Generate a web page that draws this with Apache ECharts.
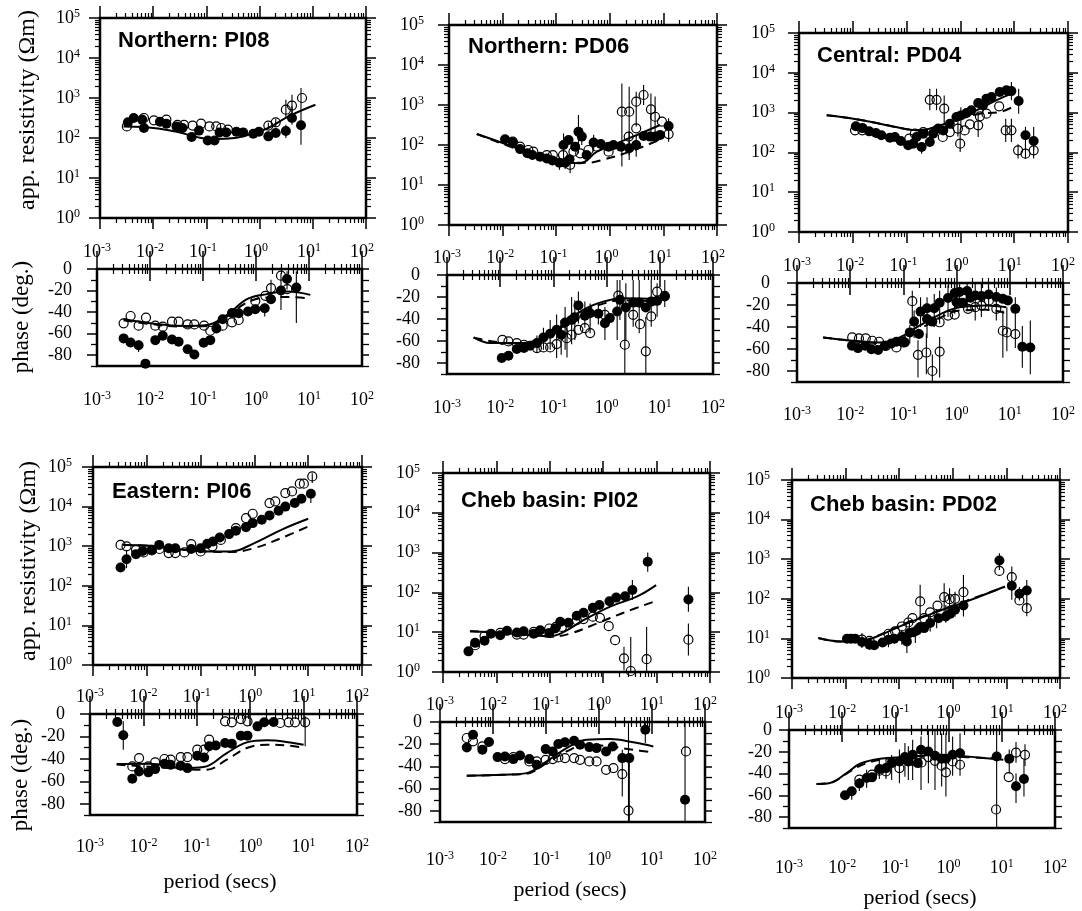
<!DOCTYPE html>
<html>
<head>
<meta charset="utf-8">
<title>MT sounding curves</title>
<script src="https://cdn.jsdelivr.net/npm/echarts/dist/echarts.min.js"></script>
<style>
html, body { margin: 0; padding: 0; background: #fff; }
#chart { width: 1082px; height: 911px; }
</style>
</head>
<body>
<div id="chart"></div>
<script>
// ---- data: [period (s), value] ; errors: [period, from, to] ----
var pi08RhoFilled = [[0.00335,246],[0.0043,316],[0.0062,288],[0.0067,178],[0.0134,256],[0.0177,228],[0.0274,195],[0.0355,178],[0.0527,106],[0.0725,153],[0.106,87],[0.142,87],[0.177,138],[0.236,138],[0.366,144],[0.49,138],[0.76,128],[0.97,144],[1.46,110],[2.01,133],[3.12,150],[4.06,316],[6.0,208]];
var pi08RhoOpen = [[0.0032,195],[0.0067,316],[0.0103,277],[0.0177,288],[0.0286,214],[0.038,214],[0.055,204],[0.0794,228],[0.114,195],[0.153,195],[0.19,178],[0.254,162],[1.46,204],[2.01,246],[3.12,512],[4.06,645],[6.27,1000]];
var pi08RhoModel = [[0.00277,195],[0.0067,188],[0.0247,147],[0.0794,100],[0.142,94],[0.34,100],[0.61,120],[1.46,178],[3.5,348],[11.2,680]];
var pi08RhoDash = [];
var pi08RhoErr = [[3.12,100,214],[4.06,214,620],[6.0,68,1780],[3.12,316,910],[4.06,346,1210],[1.46,170,240],[2.01,190,300]];
var pi08PhFilled = [[0.00318,-64.4],[0.0043,-68.2],[0.0061,-70.7],[0.0082,-87.8],[0.0126,-66],[0.0174,-62],[0.026,-65.4],[0.0347,-67.5],[0.0513,-74.4],[0.0686,-79.4],[0.103,-68.5],[0.137,-66],[0.179,-55.1],[0.235,-46.7],[0.352,-40.8],[0.471,-41.1],[0.707,-39.5],[0.97,-37.4],[1.46,-36.4],[1.92,-28],[2.96,-19.9],[3.85,-9.3],[5.77,-17.1]];
var pi08PhOpen = [[0.00318,-50.4],[0.0043,-43.6],[0.0061,-52.6],[0.0084,-45.1],[0.0126,-52.6],[0.0174,-53.5],[0.026,-48.9],[0.0347,-48.9],[0.0513,-51.4],[0.0686,-51.4],[0.105,-52.6],[0.137,-57.3],[0.235,-52.6],[0.352,-49.5],[0.471,-47.3],[0.97,-29.6],[1.5,-24.9],[1.92,-17.7],[2.96,-6.2],[3.9,-18.7]];
var pi08PhModel = [[0.00318,-46.4],[0.01,-50.4],[0.043,-52.9],[0.12,-52],[0.284,-42.6],[0.676,-28],[1.61,-23.3],[3.85,-20.9],[10.6,-24]];
var pi08PhDash = [[0.00318,-47.5],[0.01,-51],[0.043,-53.5],[0.12,-53],[0.284,-44],[0.676,-31],[1.61,-26.5],[3.85,-26],[10.6,-27.5]];
var pi08PhErr = [[0.0061,-66,-77],[1.46,-32,-44],[2.96,-4,-38],[3.85,-2,-19],[5.77,-2,-50],[1.92,-10,-27]];

var pd06RhoFilled = [[0.0111,139],[0.0155,115],[0.0212,79],[0.029,62],[0.036,56],[0.05,51],[0.0667,46],[0.085,41],[0.115,36],[0.137,100],[0.147,36],[0.17,133],[0.177,44],[0.226,91],[0.26,215],[0.3,162],[0.37,56],[0.5,115],[0.68,106],[0.95,91],[1.17,100],[1.61,91],[2.3,83],[3.11,100],[4.27,168],[5.69,162],[7.15,162],[8.7,178],[12.5,299]];
var pd06RhoOpen = [[0.0155,121],[0.0212,91],[0.0302,75],[0.0374,68],[0.0667,56],[0.0866,56],[0.134,56],[0.182,32],[0.21,68],[0.28,62],[0.4,75],[0.575,91],[0.95,68],[1.68,681],[2.3,681],[3.11,1210],[4.27,1780],[5.85,779],[7.0,508],[9.4,383],[12.5,188],[3.11,261],[2.25,162]];
var pd06RhoModel = [[0.0033,188],[0.0104,110],[0.0326,62],[0.1026,38],[0.28,35],[0.575,68],[1.35,110],[3.2,178],[8.7,316]];
var pd06RhoDash = [[0.0033,188],[0.0326,60],[0.1026,37],[0.37,36],[0.8,44],[2.5,70],[9,140]];
var pd06RhoErr = [[0.137,29,195],[0.26,62,562],[0.115,24,51],[0.182,19.6,51],[1.68,29,3470],[2.3,42,2870],[3.11,288,2150],[4.27,1000,3160],[5.85,195,1950],[7.0,133,1620],[2.3,56,215],[3.11,51,178],[12.5,133,464],[12.5,121,261],[0.147,25,50],[0.3,100,260],[0.5,70,180]];
var pd06PhFilled = [[0.0107,-75.5],[0.0143,-73.4],[0.0205,-67.3],[0.028,-66.4],[0.0365,-64.3],[0.049,-61.9],[0.065,-56.8],[0.087,-53.4],[0.115,-49.8],[0.14,-54.3],[0.166,-43.2],[0.22,-40.8],[0.253,-38.3],[0.295,-27.8],[0.39,-37.1],[0.49,-34.7],[0.7,-35.3],[0.93,-43.8],[1.15,-39.2],[1.58,-33.2],[1.78,-22.6],[2.3,-29.6],[3.16,-25.1],[4.1,-25.1],[5.46,-29.6],[6.9,-24.2],[8.9,-23.5],[12.4,-19.6]];
var pd06PhOpen = [[0.011,-58.9],[0.0143,-60.4],[0.0205,-61.9],[0.028,-63.4],[0.049,-66.4],[0.065,-65.8],[0.087,-65.8],[0.115,-62.8],[0.15,-51.3],[0.178,-57.4],[0.22,-54.3],[0.295,-49.8],[0.39,-48.3],[0.49,-52.8],[0.93,-36.2],[1.66,-18.7],[2.2,-63.4],[3.16,-36.2],[4.25,-44.7],[5.46,-69.4],[6.9,-37.7],[8.9,-15.1],[12.4,-19]];
var pd06PhModel = [[0.00316,-56.8],[0.0065,-61.9],[0.0205,-61.9],[0.056,-58.3],[0.15,-45.3],[0.363,-31.7],[0.866,-24.2],[2.05,-21.1],[10,-22]];
var pd06PhDash = [[0.00316,-57],[0.0205,-62.5],[0.056,-59],[0.15,-47],[0.363,-33.5],[0.866,-26],[2.05,-23],[10,-24]];
var pd06PhErr = [[0.087,-41,-68],[0.115,-36,-75.5],[0.14,-41,-72.5],[0.166,-29,-68],[0.22,-20,-63],[0.253,-23,-59],[0.295,-15,-44],[0.39,-24,-48],[0.49,-26,-53],[0.93,-29,-59],[1.58,-4.5,-59],[1.78,-4.5,-41],[2.2,-30,-90],[2.3,-7.5,-59],[3.16,-4.5,-47],[4.1,-4.5,-53],[5.46,-38,-90],[6.9,-4.5,-47],[8.9,-7.5,-38],[12.4,-4.5,-29],[0.049,-55,-70],[0.065,-48,-68],[0.18,-45,-75],[0.7,-27,-45]];

var pd04RhoFilled = [[0.0114,452],[0.0152,408],[0.0202,338],[0.027,308],[0.034,269],[0.049,235],[0.0606,244],[0.078,194],[0.107,151],[0.133,166],[0.153,244],[0.19,137],[0.204,296],[0.27,182],[0.31,296],[0.386,397],[0.48,357],[0.636,527],[0.845,778],[1.02,850],[1.3,978],[1.6,1140],[2.14,1740],[2.63,1520],[3.05,2240],[3.78,2460],[5.37,3310],[7.16,3630],[8.87,3470],[12.1,1950],[16.2,269],[23,194]];
var pd04RhoOpen = [[0.011,358],[0.015,358],[0.112,221],[0.142,296],[0.204,325],[0.27,2100],[0.36,2100],[0.5,1260],[0.47,244],[0.636,325],[0.99,166],[0.9,397],[1.2,357],[1.5,506],[2.14,478],[2.3,807],[3.05,940],[5.25,1440],[6.95,358],[8.87,358],[11.8,113],[16.2,93],[23,113]];
var pd04RhoModel = [[0.00327,855],[0.0102,705],[0.0319,527],[0.0865,397],[0.176,360],[0.414,478],[0.97,705],[2.29,1260],[6.2,2460],[9.5,3000]];
var pd04RhoDash = [[0.00327,855],[0.0102,705],[0.0319,527],[0.0865,397],[0.176,360],[0.414,470],[0.97,680],[2.29,940],[5.37,1030],[9.3,1380]];
var pd04RhoErr = [[0.27,1150,3980],[0.36,1150,3980],[0.5,527,2700],[0.99,102,325],[6.95,182,705],[8.87,182,705],[12.1,940,3980],[16.2,137,437],[23,113,437],[16.2,70,166],[23,70,166],[11.8,70,160],[8.87,2040,5870],[1.02,397,1370],[2.14,244,940],[0.19,93,182],[2.63,900,2500],[0.9,250,600]];
var pd04PhFilled = [[0.0108,-57.1],[0.014,-59.2],[0.0192,-57.1],[0.025,-60.2],[0.0334,-60.8],[0.0446,-57.1],[0.0593,-55],[0.074,-53.4],[0.106,-54],[0.132,-44.9],[0.159,-35.1],[0.196,-46.4],[0.21,-26],[0.278,-22.9],[0.278,-32.7],[0.35,-35.1],[0.38,-22.9],[0.48,-18],[0.69,-13.7],[0.92,-9.2],[1.14,-8.2],[1.0,-17.4],[1.3,-18],[1.58,-7.3],[1.82,-13.4],[2.24,-11.3],[2.92,-11.9],[4.0,-10.4],[5.58,-12.8],[7.4,-14.4],[9.2,-15.9],[12.7,-23.5],[17.2,-58],[24.3,-58.6]];
var pd04PhOpen = [[0.0109,-49.5],[0.0146,-50.4],[0.0196,-50.4],[0.026,-52.5],[0.0349,-53.4],[0.047,-57.1],[0.074,-58.6],[0.098,-54],[0.147,-16.5],[0.188,-65.3],[0.27,-63.2],[0.35,-80],[0.48,-62.3],[0.48,-35.7],[0.69,-29.6],[0.92,-28.7],[1.64,-23.5],[2.24,-22],[2.92,-20.5],[4.05,-15.9],[5.58,-23.5],[7.4,-43.4],[8.8,-44.9],[12.7,-46.4]];
var pd04PhModel = [[0.0031,-49.5],[0.0113,-52.5],[0.036,-54],[0.085,-49.5],[0.2,-38.8],[0.48,-28.7],[1.14,-22],[3.63,-20.5],[8.6,-22]];
var pd04PhDash = [[0.0031,-49.5],[0.0113,-52.5],[0.036,-54.5],[0.085,-51],[0.2,-42],[0.48,-31.8],[1.14,-25],[3.63,-24.4],[8.6,-27.5]];
var pd04PhErr = [[0.147,-7,-37],[0.188,-52,-86],[0.27,-46,-83],[0.35,-65,-90],[0.48,-49,-86],[0.21,-13,-40],[0.278,-13,-50],[0.38,-10,-40],[0.48,-7,-37],[0.69,-2,-31],[0.92,-1,-28],[1.14,-1,-22],[1.58,-1,-25],[2.24,-1,-34],[2.92,-1,-31],[4.0,-4,-25],[5.58,-4,-34],[7.4,-25,-68],[8.8,-22,-62],[12.7,-13,-59],[17.2,-39,-77],[24.3,-34,-83],[0.132,-38,-55],[0.159,-25,-50]];

var pi06RhoFilled = [[0.00325,290],[0.0042,470],[0.0063,630],[0.0084,760],[0.0124,810],[0.017,1080],[0.0255,890],[0.0339,890],[0.0668,850],[0.1,890],[0.133,1150],[0.17,1320],[0.227,1660],[0.339,2020],[0.453,2450],[0.698,3030],[0.93,3830],[1.37,4650],[1.91,6000],[2.82,7900],[3.76,10000],[5.62,12300],[7.5,15800],[11.2,21200]];
var pi06RhoOpen = [[0.00325,1080],[0.0042,990],[0.0063,810],[0.0087,695],[0.0124,780],[0.0172,850],[0.0255,670],[0.0339,670],[0.05,695],[0.0668,1130],[0.1,735],[0.166,990],[0.238,1440],[0.453,2860],[0.698,5130],[0.93,6600],[1.91,12300],[2.44,13500],[3.76,22000],[5.0,24100],[6.98,38000],[8.3,38000],[11.9,57900]];
var pi06RhoModel = [[0.00364,1080],[0.0116,1020],[0.0487,810],[0.154,735],[0.366,735],[1.0,1200],[3.16,2590],[10,4920]];
var pi06RhoDash = [[0.00364,1080],[0.0116,1020],[0.0487,810],[0.154,730],[0.366,710],[1.0,900],[3.16,1600],[10,3150]];
var pi06RhoErr = [[0.0042,280,810],[11.2,12300,26800],[11.9,39700,70000]];
var pi06PhFilled = [[0.00325,-7.1],[0.0042,-19],[0.0062,-57.7],[0.0083,-51.2],[0.0124,-52],[0.0166,-49.1],[0.0248,-44.3],[0.0324,-45.2],[0.05,-46.1],[0.0668,-48.2],[0.102,-37.2],[0.137,-38.7],[0.17,-28.8],[0.227,-28],[0.339,-25.9],[0.453,-26.5],[0.668,-19.3],[0.89,-19.3],[1.37,-11],[1.83,-7.4],[2.74,-7.1]];
var pi06PhOpen = [[0.0062,-46.7],[0.0083,-39.3],[0.0124,-46.7],[0.0166,-43.1],[0.0248,-40.1],[0.0324,-40.7],[0.05,-38.4],[0.0668,-38.4],[0.102,-31.8],[0.137,-31.8],[0.17,-22.9],[0.339,-6.5],[0.453,-7.4],[0.668,-4.5],[0.89,-6.5],[3.65,-8],[5.25,-7.4],[6.9,-7.4],[10.7,-7.4]];
var pi06PhModel = [[0.00316,-44.6],[0.0133,-44.3],[0.056,-48.2],[0.133,-47.3],[0.365,-34.8],[0.866,-25.3],[2.05,-23.5],[5.62,-25.3],[10,-27.4]];
var pi06PhDash = [[0.00316,-45],[0.056,-49],[0.15,-49.7],[0.365,-40.7],[0.866,-30.3],[2.05,-27.4],[5.62,-28.3],[10,-30.3]];
var pi06PhErr = [[0.0042,-6.5,-31.8],[10.7,-2,-28.8]];

var pi02RhoFilled = [[0.003,3.3],[0.004,5.4],[0.006,6.1],[0.0079,9.2],[0.0118,8.4],[0.0158,10.8],[0.0242,9.8],[0.0323,10.6],[0.05,9.2],[0.066,11.2],[0.0977,9.6],[0.126,12.4],[0.157,18.2],[0.224,17.2],[0.32,25.9],[0.428,30.9],[0.64,41],[0.85,48],[1.31,60],[1.75,74],[2.57,80],[3.52,115],[6.82,590],[39.4,66.5]];
var pi02RhoOpen = [[0.004,4.7],[0.006,8],[0.0118,9.6],[0.0242,8.7],[0.0323,8.7],[0.05,10.2],[0.0977,12.4],[0.13,13.6],[0.168,13.6],[0.32,20],[0.428,21.4],[0.64,24.6],[0.87,23],[1.27,14.2],[1.67,6.3],[2.45,2.2],[3.28,1.06],[6.5,2.1],[39.4,6.5]];
var pi02RhoModel = [[0.0032,10.6],[0.0136,9.6],[0.043,8.4],[0.102,7.9],[0.18,10],[0.427,20],[1.35,44],[4.25,78],[9.8,152]];
var pi02RhoDash = [[0.0032,10.6],[0.0136,9.6],[0.043,8.4],[0.102,7.7],[0.24,9.2],[0.76,16.6],[2.4,30.9],[9.8,61]];
var pi02RhoErr = [[3.52,64,204],[6.82,331,1000],[39.4,32.6,138],[2.45,1.1,4.3],[3.28,1,7.6],[6.5,1,13.6],[39.4,2.6,16.6]];
var pi02PhFilled = [[0.0032,-22.9],[0.0042,-11.4],[0.0063,-25],[0.0084,-18],[0.0122,-31.6],[0.0168,-31],[0.0242,-33.4],[0.0324,-30.1],[0.0485,-33.4],[0.0667,-38.5],[0.0986,-24.4],[0.134,-26.5],[0.171,-19.8],[0.228,-18.3],[0.339,-16.8],[0.439,-20.5],[0.657,-22.6],[0.9,-23.5],[1.36,-26.5],[1.81,-22],[2.75,-32.5],[3.73,-32.5],[7.48,-6.9],[42,-70]];
var pi02PhOpen = [[0.0032,-14.4],[0.0042,-17.4],[0.0063,-22],[0.0168,-33.4],[0.0242,-31.6],[0.0485,-35.5],[0.0667,-35.5],[0.0986,-34],[0.134,-33.4],[0.171,-31.9],[0.228,-32.5],[0.339,-32.5],[0.439,-34],[0.657,-35.5],[0.9,-35.5],[1.36,-43],[1.87,-41.5],[2.75,-46.9],[3.6,-79.7],[43.8,-26.5]];
var pi02PhModel = [[0.0032,-48.4],[0.0157,-47.5],[0.0432,-46],[0.103,-35.5],[0.245,-23.5],[0.585,-15.9],[1.61,-15.3],[4.45,-18.3],[10.6,-22]];
var pi02PhDash = [[0.0032,-48.4],[0.0157,-47.5],[0.0432,-46.5],[0.103,-37],[0.245,-26.5],[0.585,-20.5],[1.61,-22],[4.45,-25],[10.6,-27.4]];
var pi02PhErr = [[2.75,-25,-67],[3.73,-32,-90],[3.6,-1,-90],[7.48,-1,-19],[42,-1,-90],[1.81,-19,-25]];

var pd02RhoFilled = [[0.0106,9.8],[0.0126,9.8],[0.0151,9.8],[0.0202,8.1],[0.028,6.9],[0.0342,6.7],[0.049,7.9],[0.063,9.3],[0.0807,9.8],[0.112,11.2],[0.139,8.4],[0.155,13.6],[0.185,14.4],[0.214,15.9],[0.246,19.3],[0.292,18.2],[0.378,24.4],[0.54,32.5],[0.74,35.9],[0.89,41.7],[1.1,52.8],[1.58,67.6],[7.4,925],[12.6,213],[17.5,134],[24,162]];
var pd02RhoOpen = [[0.0202,9.3],[0.028,8.7],[0.063,13.1],[0.0837,15],[0.112,20],[0.148,25.2],[0.177,32.5],[0.246,85.8],[0.292,32.5],[0.378,45.5],[0.518,67.6],[0.69,110],[0.87,98],[1.1,100],[1.58,147],[7.4,505],[12.6,352],[17.5,91],[24,58]];
var pd02RhoModel = [[0.0031,10.2],[0.0079,8.4],[0.0188,8.4],[0.0384,11.2],[0.12,22],[0.436,43.6],[1.82,85.8],[9.4,204]];
var pd02RhoDash = [[0.0031,10.2],[0.0079,8.4],[0.0188,8.6],[0.0384,11.5],[0.12,23],[0.436,45],[1.82,90],[9.4,200]];
var pd02RhoErr = [[0.0202,5.7,13.6],[0.028,5.2,9.3],[0.112,6.9,16.6],[0.139,4.3,12.4],[0.246,29.5,225],[0.2,7.6,22],[0.69,43.6,247],[0.87,35.7,186],[0.74,25,70],[1.1,35,150],[1.58,35.7,400],[7.4,537,1420],[12.6,204,654],[12.6,94,300],[17.5,90,200],[24,64,300],[24,36,78],[0.5,18,55],[0.378,15,40],[0.155,8,25],[0.063,6,14]];
var pd02PhFilled = [[0.0113,-59.9],[0.0151,-56.2],[0.021,-49.2],[0.0288,-44.1],[0.0363,-43.5],[0.0499,-35.9],[0.0665,-35],[0.085,-30.4],[0.119,-28.9],[0.151,-24.9],[0.175,-28.9],[0.211,-22.8],[0.264,-30.4],[0.303,-18.2],[0.417,-19.8],[0.555,-23.7],[0.74,-26.4],[0.89,-26.4],[1.19,-22.8],[1.64,-21.3],[8.0,-24.3],[13.8,-26.4],[18.5,-51.7],[26.1,-45]];
var pd02PhOpen = [[0.021,-45.6],[0.0363,-41],[0.0499,-37.4],[0.0665,-38],[0.119,-35],[0.211,-28.3],[0.31,-29.8],[0.417,-24.9],[0.555,-28.3],[0.74,-32.8],[0.89,-38.9],[1.19,-28.9],[1.64,-31.9],[7.8,-73],[13.5,-43.2],[18.5,-20.7],[27.3,-22.8]];
var pd02PhModel = [[0.0033,-49.5],[0.0059,-48.6],[0.0121,-39.5],[0.0216,-31],[0.0513,-26.4],[0.162,-24.9],[0.597,-22.8],[2.19,-24.3],[10.7,-27.4]];
var pd02PhDash = [[0.0033,-49.5],[0.0059,-48.6],[0.0121,-40],[0.0216,-32.8],[0.0513,-27.4],[0.162,-25],[0.597,-23.5],[2.19,-25],[10.7,-26.4]];
var pd02PhErr = [[0.0151,-53,-64],[0.021,-44,-56],[0.0288,-36.5,-53],[0.085,-23,-46],[0.119,-18,-49],[0.151,-12,-43],[0.175,-15,-46],[0.211,-9,-46],[0.303,-6,-55],[0.417,0,-49],[0.555,0,-55],[0.74,-3,-52],[0.89,-3,-61],[1.19,-6,-42],[1.64,-3,-42],[8.0,0,-90],[13.8,-18,-40],[18.5,-40,-67],[26.1,-27,-61],[18.5,-11,-30],[27.3,-13,-33],[0.0499,-28,-45],[0.0665,-25,-45]];

// tick values
var periodTicks = [0.001, 0.01, 0.1, 1, 10, 100];
var rhoTicks = [1, 10, 100, 1000, 10000, 100000];
var phaseTicks = [-80, -60, -40, -20, 0];
var phaseMinorTicks = [-90, -70, -50, -30, -10];

// ---- layout ----
var panels = [
  { title: 'Northern: PI08', tl: [118, 30], res: [100, 18, 266, 200], ph: [97, 269, 265, 97], ym: [20, 25], bm: 24,
    d: [pi08RhoFilled, pi08RhoOpen, pi08RhoModel, pi08RhoDash, pi08RhoErr, pi08PhFilled, pi08PhOpen, pi08PhModel, pi08PhDash, pi08PhErr] },
  { title: 'Northern: PD06', tl: [468, 36], res: [449, 25, 268, 200], ph: [447, 275, 266, 99], ym: [25, 27], bm: 24,
    d: [pd06RhoFilled, pd06RhoOpen, pd06RhoModel, pd06RhoDash, pd06RhoErr, pd06PhFilled, pd06PhOpen, pd06PhModel, pd06PhDash, pd06PhErr] },
  { title: 'Central: PD04', tl: [817, 45], res: [799, 33, 269, 199], ph: [797, 283, 266, 99], ym: [24, 27], bm: 23,
    d: [pd04RhoFilled, pd04RhoOpen, pd04RhoModel, pd04RhoDash, pd04RhoErr, pd04PhFilled, pd04PhOpen, pd04PhModel, pd04PhDash, pd04PhErr] },
  { title: 'Eastern: PI06', tl: [112, 481], res: [93, 467, 269, 198], ph: [90, 714, 267, 101], ym: [21, 25], bm: 22,
    d: [pi06RhoFilled, pi06RhoOpen, pi06RhoModel, pi06RhoDash, pi06RhoErr, pi06PhFilled, pi06PhOpen, pi06PhModel, pi06PhDash, pi06PhErr] },
  { title: 'Cheb basin: PI02', tl: [461, 490], res: [443, 473, 267, 199], ph: [440, 722, 265, 100], ym: [23, 18], bm: 28,
    d: [pi02RhoFilled, pi02RhoOpen, pi02RhoModel, pi02RhoDash, pi02RhoErr, pi02PhFilled, pi02PhOpen, pi02PhModel, pi02PhDash, pi02PhErr] },
  { title: 'Cheb basin: PD02', tl: [810, 494], res: [792, 480, 268, 198], ph: [789, 730, 266, 98], ym: [22, 17], bm: 30,
    d: [pd02RhoFilled, pd02RhoOpen, pd02RhoModel, pd02RhoDash, pd02RhoErr, pd02PhFilled, pd02PhOpen, pd02PhModel, pd02PhDash, pd02PhErr] }
];

var SERIF = 'Liberation Serif, Times New Roman, serif';
var RICH = { s: { fontSize: 12, lineHeight: 12, verticalAlign: 'top', fontFamily: SERIF, color: '#000' } };

function logMinor(majors) {
  var out = [];
  for (var i = 0; i < majors.length - 1; i++)
    for (var k = 2; k <= 9; k++) out.push(+(majors[i] * k).toPrecision(3));
  return out;
}
var periodMinor = logMinor(periodTicks);
var rhoMinor = logMinor(rhoTicks);

function supFmt(v) {
  return '10{s|' + Math.round(Math.log10(v)) + '}';
}

function tickStyle(vals, len, w) {
  return { show: true, inside: false, customValues: vals, length: len, lineStyle: { color: '#000', width: w } };
}
function labelStyle(vals, margin, fmt) {
  return { show: true, customValues: vals, margin: margin, formatter: fmt, fontFamily: SERIF, fontSize: 18,
           color: '#000', lineHeight: 20, rich: RICH };
}

function makeAxis(kind, grid, pos, ticks, len, w, label) {
  var ax = {
    gridIndex: grid, position: pos,
    axisLine: { show: false }, splitLine: { show: false },
    axisTick: tickStyle(ticks, len, w),
    axisLabel: label || { show: false }
  };
  if (kind === 'period') { ax.type = 'log'; ax.logBase = 10; ax.min = 0.001; ax.max = 100; }
  else if (kind === 'rho') { ax.type = 'log'; ax.logBase = 10; ax.min = 1; ax.max = 100000; }
  else { ax.type = 'value'; ax.min = -90; ax.max = 0; }
  return ax;
}

var chart = echarts.init(document.getElementById('chart'));
var option = {
  animation: false,
  backgroundColor: '#fff',
  title: [], grid: [], xAxis: [], yAxis: [], series: [],
  graphic: [
    { type: 'text', x: 28, y: 110, rotation: Math.PI / 2,
      style: { text: 'app. resistivity (\u03A9m)', fontFamily: SERIF, fontSize: 24, fill: '#000', align: 'center', verticalAlign: 'middle' } },
    { type: 'text', x: 29, y: 561, rotation: Math.PI / 2,
      style: { text: 'app. resistivity (\u03A9m)', fontFamily: SERIF, fontSize: 24, fill: '#000', align: 'center', verticalAlign: 'middle' } },
    { type: 'text', x: 22, y: 317, rotation: Math.PI / 2,
      style: { text: 'phase (deg.)', fontFamily: SERIF, fontSize: 23, fill: '#000', align: 'center', verticalAlign: 'middle' } },
    { type: 'text', x: 21, y: 775, rotation: Math.PI / 2,
      style: { text: 'phase (deg.)', fontFamily: SERIF, fontSize: 23, fill: '#000', align: 'center', verticalAlign: 'middle' } },
    { type: 'text', x: 220, y: 882,
      style: { text: 'period (secs)', fontFamily: SERIF, fontSize: 22, fill: '#000', align: 'center', verticalAlign: 'middle' } },
    { type: 'text', x: 570, y: 890,
      style: { text: 'period (secs)', fontFamily: SERIF, fontSize: 22, fill: '#000', align: 'center', verticalAlign: 'middle' } },
    { type: 'text', x: 920, y: 898,
      style: { text: 'period (secs)', fontFamily: SERIF, fontSize: 22, fill: '#000', align: 'center', verticalAlign: 'middle' } }
  ]
};

function addSeries(xi, yi, filled, open, model, dash, err) {
  if (err.length) option.series.push({
    type: 'custom', xAxisIndex: xi, yAxisIndex: yi, z: 3, clip: true,
    encode: { x: 0, y: [1, 2] }, data: err,
    renderItem: function (params, api) {
      var a = api.coord([api.value(0), api.value(1)]);
      var b = api.coord([api.value(0), api.value(2)]);
      return { type: 'line', shape: { x1: a[0], y1: a[1], x2: b[0], y2: b[1] }, style: { stroke: '#000', lineWidth: 1.1 } };
    }
  });
  option.series.push({ type: 'line', xAxisIndex: xi, yAxisIndex: yi, z: 2, data: model, smooth: 0.4, showSymbol: false,
    lineStyle: { color: '#000', width: 2, opacity: 1 } });
  if (dash.length) option.series.push({ type: 'line', xAxisIndex: xi, yAxisIndex: yi, z: 2, data: dash, smooth: 0.4, showSymbol: false,
    lineStyle: { color: '#000', width: 2, type: [9, 6], opacity: 1 } });
  option.series.push({ type: 'scatter', xAxisIndex: xi, yAxisIndex: yi, z: 4, data: open, symbol: 'circle', symbolSize: 9,
    itemStyle: { color: 'rgba(255,255,255,0)', borderColor: '#000', borderWidth: 1.2, opacity: 1 } });
  option.series.push({ type: 'scatter', xAxisIndex: xi, yAxisIndex: yi, z: 5, data: filled, symbol: 'circle', symbolSize: 10,
    itemStyle: { color: '#000', opacity: 1 } });
}

panels.forEach(function (p) {
  option.title.push({ text: p.title, left: p.tl[0], top: p.tl[1], padding: 0,
    textStyle: { fontFamily: 'Liberation Sans, Arial, sans-serif', fontWeight: 'bold', fontSize: 22, color: '#000' } });

  // resistivity grid
  var gr = option.grid.length;
  option.grid.push({ left: p.res[0], top: p.res[1], width: p.res[2], height: p.res[3], show: true,
    borderColor: '#000', borderWidth: 2.5, backgroundColor: 'transparent', outerBoundsMode: 'none' });
  var xr = option.xAxis.length;
  option.xAxis.push(makeAxis('period', gr, 'bottom', periodTicks, 11, 1.5));
  option.xAxis.push(makeAxis('period', gr, 'bottom', periodMinor, 5, 1.2));
  option.xAxis.push(makeAxis('period', gr, 'top', periodTicks, 12, 1.5));
  option.xAxis.push(makeAxis('period', gr, 'top', periodMinor, 5, 1.2));
  var yr = option.yAxis.length;
  option.yAxis.push(makeAxis('rho', gr, 'left', rhoTicks, 11, 1.5, labelStyle(rhoTicks, p.ym[0], supFmt)));
  option.yAxis.push(makeAxis('rho', gr, 'left', rhoMinor, 5, 1.2));
  option.yAxis.push(makeAxis('rho', gr, 'right', rhoTicks, 10, 1.5));
  option.yAxis.push(makeAxis('rho', gr, 'right', rhoMinor, 5, 1.2));
  addSeries(xr, yr, p.d[0], p.d[1], p.d[2], p.d[3], p.d[4]);

  // phase grid
  var gp = option.grid.length;
  option.grid.push({ left: p.ph[0], top: p.ph[1], width: p.ph[2], height: p.ph[3], show: true,
    borderColor: '#000', borderWidth: 2.5, backgroundColor: 'transparent', outerBoundsMode: 'none' });
  var xp = option.xAxis.length;
  option.xAxis.push(makeAxis('period', gp, 'bottom', periodTicks, 12, 1.5, labelStyle(periodTicks, p.bm, supFmt)));
  option.xAxis.push(makeAxis('period', gp, 'bottom', periodMinor, 5, 1.2));
  option.xAxis.push(makeAxis('period', gp, 'top', periodTicks, 18, 1.5, labelStyle(periodTicks, 7, supFmt)));
  option.xAxis.push(makeAxis('period', gp, 'top', periodMinor, 5, 1.2));
  var yp = option.yAxis.length;
  option.yAxis.push(makeAxis('phase', gp, 'left', phaseTicks, 10, 1.5, labelStyle(phaseTicks, p.ym[1], function (v) { return String(v); })));
  option.yAxis.push(makeAxis('phase', gp, 'left', phaseMinorTicks, 6, 1.3));
  option.yAxis.push(makeAxis('phase', gp, 'right', phaseTicks, 7, 1.5));
  option.yAxis.push(makeAxis('phase', gp, 'right', phaseMinorTicks, 7, 1.3));
  addSeries(xp, yp, p.d[5], p.d[6], p.d[7], p.d[8], p.d[9]);
});

chart.setOption(option);
window.addEventListener('resize', function () { chart.resize(); });
</script>
</body>
</html>
